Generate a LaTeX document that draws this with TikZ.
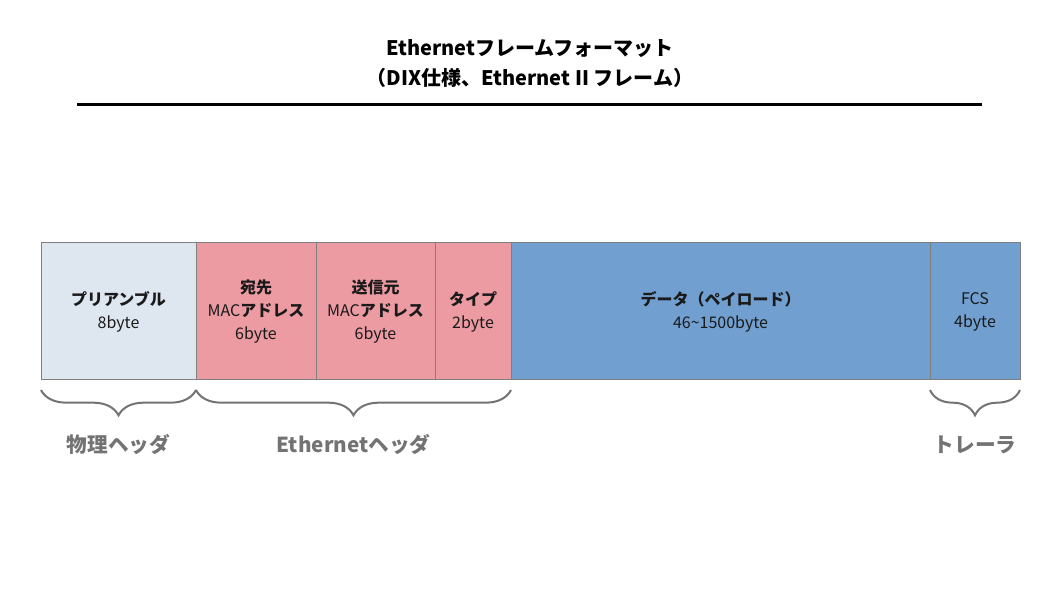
\documentclass[tikz,border=0pt]{standalone}
\usepackage{fontspec}
\setmainfont{Noto Sans CJK JP}
\usetikzlibrary{positioning,decorations.pathreplacing}

\definecolor{preamblefill}{HTML}{DEE6F0}
\definecolor{headerfill}{HTML}{EC9BA3}
\definecolor{payloadfill}{HTML}{709FD0}
\definecolor{framegray}{HTML}{7F7F7F}
\definecolor{labelgray}{HTML}{737373}
\definecolor{textblack}{HTML}{1A1A1A}

\tikzset{
  field/.style={draw=framegray, line width=0.75pt, minimum height=102.75pt,
                inner sep=0pt, outer sep=0pt, align=center, text=textblack,
                font=\fontsize{12}{17.25}\selectfont},
  footbrace/.style={decorate, draw=labelgray, line width=1.5pt,
                    decoration={brace, mirror, amplitude=19pt, raise=7.5pt}},
  footlabel/.style={text=labelgray, font=\fontsize{15.5}{18}\selectfont\bfseries}
}

\begin{document}
\begin{tikzpicture}[x=0.75pt,y=-0.75pt]

        \useasboundingbox (0,0) rectangle (1058,595);

        % title
        \node[align=center, font=\fontsize{15}{22.5}\selectfont\bfseries] (title) at (530,64)
              {Ethernetフレームフォーマット\\（DIX仕様、Ethernet II フレーム）};
        \draw[line width=2.25pt] (77,105) -- (982,105);

        % frame fields
        \node[field, fill=preamblefill, minimum width=116.25pt, anchor=north west] (pre) at (41,243)
              {\textbf{プリアンブル}\\8byte};
        \node[field, fill=headerfill,   minimum width=90pt,    right=0pt of pre]  (dst)
              {\textbf{宛先}\\MAC\textbf{アドレス}\\6byte};
        \node[field, fill=headerfill,   minimum width=89.25pt, right=0pt of dst]  (src)
              {\textbf{送信元}\\MAC\textbf{アドレス}\\6byte};
        \node[field, fill=headerfill,   minimum width=57pt,    right=0pt of src]  (type)
              {\textbf{タイプ}\\2byte};
        \node[field, fill=payloadfill,  minimum width=314.25pt, right=0pt of type] (data)
              {\textbf{データ（ペイロード）}\\46\textasciitilde1500byte};
        \node[field, fill=payloadfill,  minimum width=67.5pt,  right=0pt of data] (fcs)
              {FCS\\4byte};

        % braces and labels
        \draw[footbrace] (pre.south west) -- node[footlabel, yshift=-48.75pt] (phys) {物理ヘッダ} (pre.south east);
        \draw[footbrace] (dst.south west) -- node[footlabel, yshift=-48.75pt] (ether) {Ethernetヘッダ} (type.south east);
        \draw[footbrace] (fcs.south west) -- node[footlabel, yshift=-48.75pt] (trail) {トレーラ} (fcs.south east);

\end{tikzpicture}
\end{document}
